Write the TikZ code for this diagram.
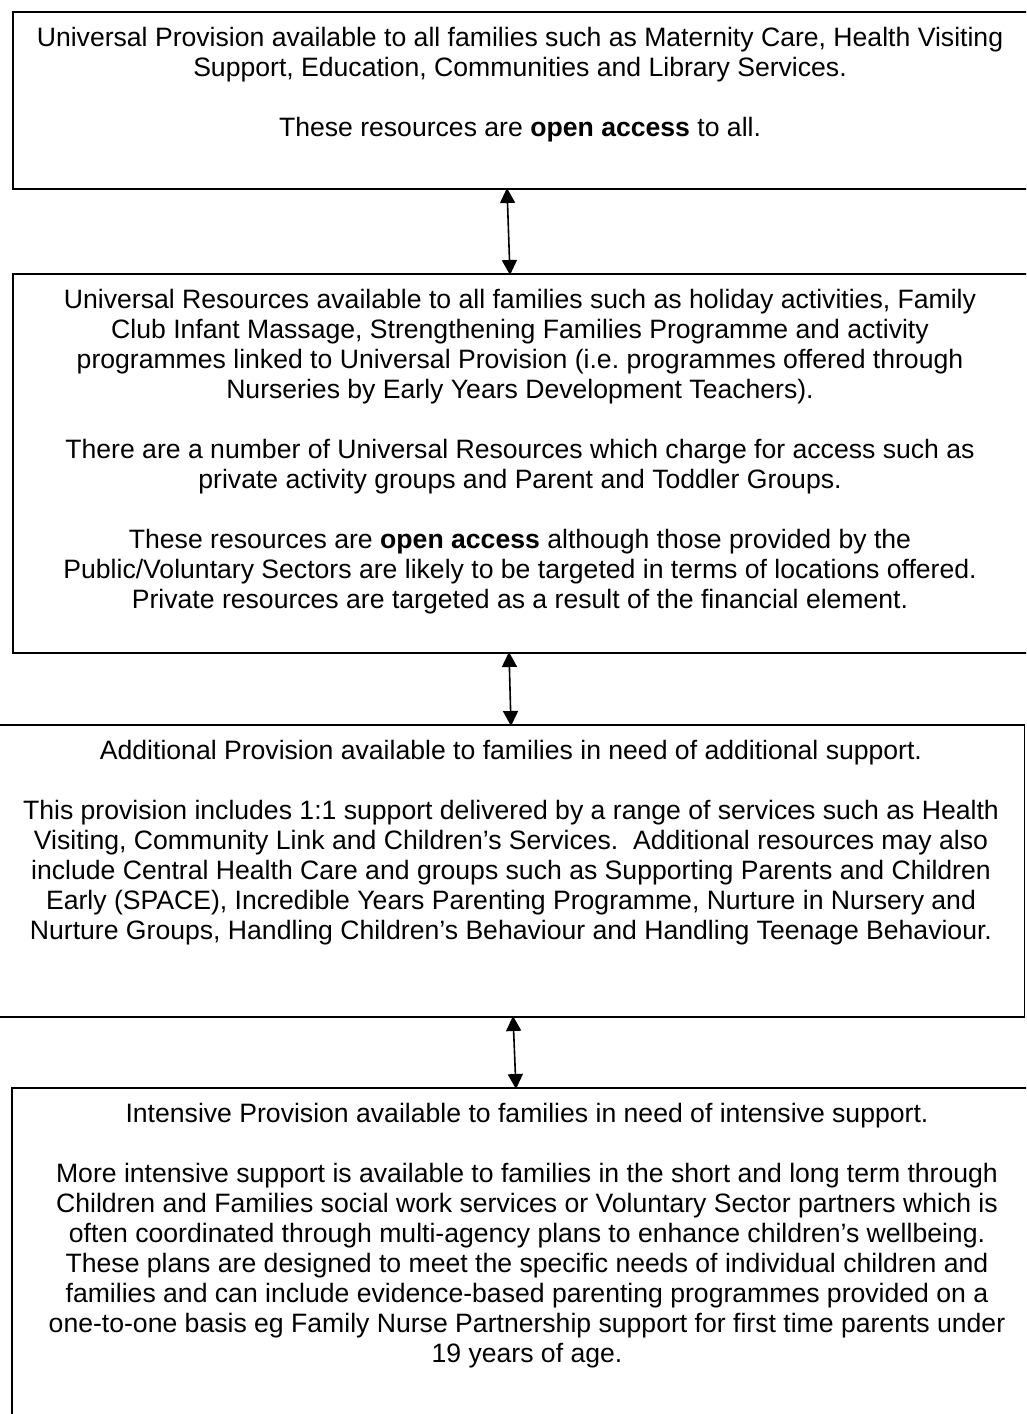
\documentclass[tikz,border=0pt]{standalone}
\usepackage{fontspec}
\setmainfont{Liberation Sans}
\usetikzlibrary{arrows.meta}
\frenchspacing
\begin{document}
\begin{tikzpicture}[x=1pt,y=-1pt,
  boxframe/.style={draw=black,line width=1.8pt,inner sep=0pt,outer sep=0pt,rectangle},
  boxtext/.style={align=center,inner sep=0pt,outer sep=0pt,anchor=north,
    font=\fontsize{26.6}{30}\selectfont},
  link/.style={line width=1.6pt,{Triangle[length=15pt,width=15pt]}-{Triangle[length=15pt,width=15pt]}}]
\clip (0,0) rectangle (1026,1414);
\fill[white] (0,0) rectangle (1026,1414);
% boxes
\node[boxframe,minimum width=1037pt,minimum height=177pt] (b1) at (531.5,100.5) {};
\node[boxframe,minimum width=1037pt,minimum height=379pt] (b2) at (531.5,463.5) {};
\node[boxframe,minimum width=1044.5pt,minimum height=292pt] (b3) at (502.25,871) {};
\node[boxframe,minimum width=1038pt,minimum height=360pt] (b4) at (531,1268) {};
% texts
\node[boxtext] (t1) at (520,27) {Universal Provision available to all families such as Maternity Care, Health Visiting\\
Support, Education, Communities and Library Services.\\[30pt]
These resources are \textbf{open access} to all.};
\node[boxtext] (t2) at (520,289) {Universal Resources available to all families such as holiday activities, Family\\
Club Infant Massage, Strengthening Families Programme and activity\\
programmes linked to Universal Provision (i.e. programmes offered through\\
Nurseries by Early Years Development Teachers).\\[30pt]
There are a number of Universal Resources which charge for access such as\\
private activity groups and Parent and Toddler Groups.\\[30pt]
These resources are \textbf{open access} although those provided by the\\
Public/Voluntary Sectors are likely to be targeted in terms of locations offered.\\
Private resources are targeted as a result of the financial element.};
\node[boxtext] (t3) at (511,740) {Additional Provision available to families in need of additional support.\\[30pt]
This provision includes 1:1 support delivered by a range of services such as Health\\
Visiting, Community Link and Children’s Services.~ Additional resources may also\\
include Central Health Care and groups such as Supporting Parents and Children\\
Early (SPACE), Incredible Years Parenting Programme, Nurture in Nursery and\\
Nurture Groups, Handling Children’s Behaviour and Handling Teenage Behaviour.};
\node[boxtext] (t4) at (527,1103) {Intensive Provision available to families in need of intensive support.\\[30pt]
More intensive support is available to families in the short and long term through\\
Children and Families social work services or Voluntary Sector partners which is\\
often coordinated through multi-agency plans to enhance children’s wellbeing.\\
These plans are designed to meet the specific needs of individual children and\\
families and can include evidence-based parenting programmes provided on a\\
one-to-one basis eg Family Nurse Partnership support for first time parents under\\
19 years of age.};
% connectors
\draw[link] ([xshift=494pt,yshift=1pt]b1.south west) -- ([xshift=497pt,yshift=-1pt]b2.north west);
\draw[link] ([xshift=496pt,yshift=1pt]b2.south west) -- ([xshift=531pt,yshift=-1pt]b3.north west);
\draw[link] ([xshift=533pt,yshift=1pt]b3.south west) -- ([xshift=504pt,yshift=-1pt]b4.north west);
\end{tikzpicture}
\end{document}
